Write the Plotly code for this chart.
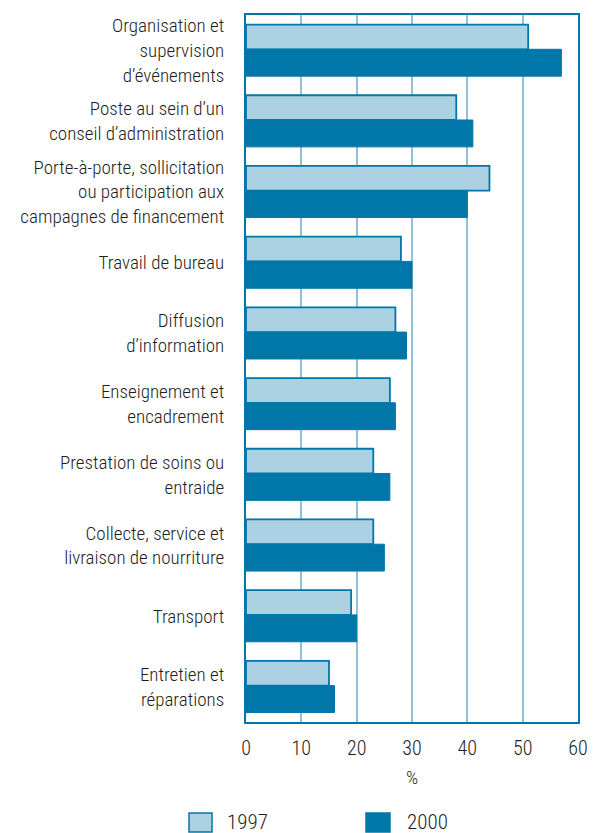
import plotly.graph_objects as go

categories = [
    "Organisation et<br>supervision<br>d’événements",
    "Poste au sein d’un<br>conseil d’administration",
    "Porte-à-porte, sollicitation<br>ou participation aux<br>campagnes de financement",
    "Travail de bureau",
    "Diffusion<br>d’information",
    "Enseignement et<br>encadrement",
    "Prestation de soins ou<br>entraide",
    "Collecte, service et<br>livraison de nourriture",
    "Transport",
    "Entretien et<br>réparations",
]
values_1997 = [51, 38, 44, 28, 27, 26, 23, 23, 19, 15]
values_2000 = [57, 41, 40, 30, 29, 27, 26, 25, 20, 16]
series_names = ["1997", "2000"]
x_ticks = [0, 10, 20, 30, 40, 50, 60]

LIGHT = "#abd1e3"
DARK = "#0077a8"
GRID = "#8fc1db"
TEXT = "#1e1e1e"
FONT = "Liberation Sans Narrow, Arial Narrow, Roboto Condensed, DejaVu Sans Condensed, sans-serif"
WEIGHT = 300

W, H = 593, 833
ML, MR, MT, MB = 246, 15, 15, 111
PW = W - ML - MR
PH = H - MT - MB

def px_x(px):
    return (px - ML) / PW

def px_y(py):
    return (H - MB - py) / PH

fig = go.Figure()
fig.add_trace(go.Bar(
    y=categories, x=values_1997, orientation="h", name=series_names[0],
    marker=dict(color=LIGHT, line=dict(color=DARK, width=1.8)),
    offset=-0.365, width=0.35, showlegend=False,
))
fig.add_trace(go.Bar(
    y=categories, x=values_2000, orientation="h", name=series_names[1],
    marker=dict(color=DARK, line=dict(color=DARK, width=1)),
    offset=-0.015, width=0.38, showlegend=False,
))

fig.update_layout(
    width=W, height=H,
    margin=dict(l=ML, r=MR, t=MT, b=MB),
    paper_bgcolor="white", plot_bgcolor="white",
    barmode="group",
    font=dict(family=FONT, size=19, color=TEXT, weight=WEIGHT),
    xaxis=dict(
        range=[0, 60], tickvals=x_ticks, ticktext=[str(v) for v in x_ticks],
        showgrid=True, gridcolor=GRID, gridwidth=2,
        showline=True, linecolor=DARK, linewidth=2, mirror=True,
        zeroline=False, ticks="", ticklabelstandoff=7, automargin=False,
        tickfont=dict(size=20, color=TEXT, weight=WEIGHT),
    ),
    yaxis=dict(
        autorange="reversed", showgrid=False,
        showline=True, linecolor=DARK, linewidth=2, mirror=True,
        ticks="", ticklabelstandoff=16, automargin=False,
        tickfont=dict(size=19, color=TEXT, weight=WEIGHT),
    ),
)

fig.add_annotation(text="%", xref="paper", yref="paper", x=0.5, y=0,
                   yshift=-55, showarrow=False,
                   font=dict(size=19, color=TEXT, weight=WEIGHT),
                   xanchor="center", yanchor="middle")

legend_items = [
    (series_names[0], LIGHT, 189, 212, 225),
    (series_names[1], DARK, 366, 390, 405),
]
for name, color, sx0, sx1, tx in legend_items:
    fig.add_shape(type="rect", xref="paper", yref="paper",
                  x0=px_x(sx0), x1=px_x(sx1), y0=px_y(813), y1=px_y(832),
                  fillcolor=color, line=dict(color=DARK, width=1.5))
    fig.add_annotation(text=name, xref="paper", yref="paper",
                       x=px_x(tx), y=px_y(822), showarrow=False,
                       xanchor="left", yanchor="middle",
                       font=dict(size=21, color=TEXT, weight=WEIGHT))

fig.write_html("out.html", config={"displayModeBar": False},
               post_script="document.body.style.margin='0';document.body.style.overflow='hidden';")
